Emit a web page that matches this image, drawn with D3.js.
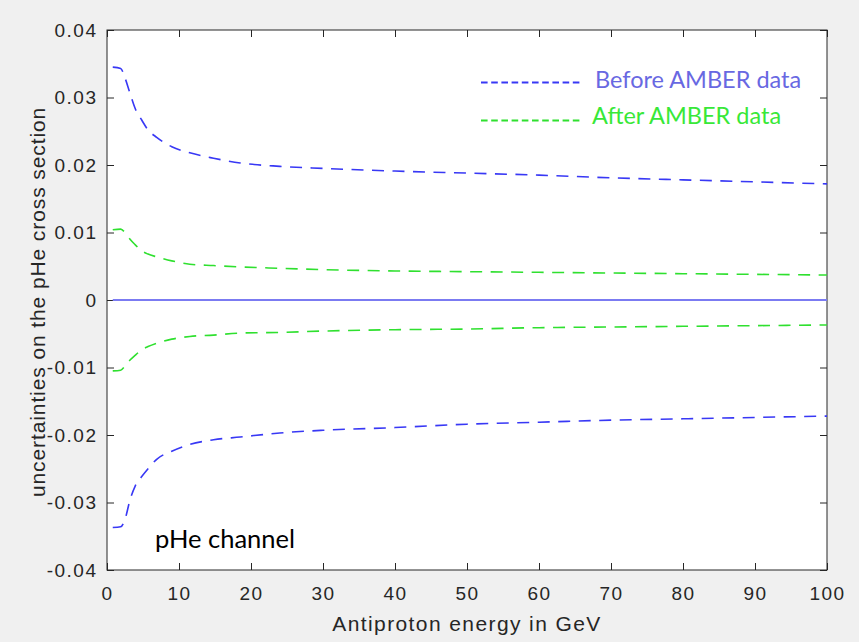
<!DOCTYPE html>
<html>
<head>
<meta charset="utf-8">
<script src="https://cdn.jsdelivr.net/npm/d3@7"></script>
<style>
  html, body { margin: 0; padding: 0; background: #f0f0f0; }
  svg { display: block; }
</style>
</head>
<body>
<svg id="chart" width="859" height="642"></svg>
<script>
// Antiproton energy (GeV) sampled along the curves
const energy = [0.8, 1.9, 2.5, 3.2, 3.9, 4.8, 5.7, 6.9, 9, 11.5, 14.8, 18.5, 24, 30, 40, 50, 60, 70, 80, 90, 100];

// Uncertainty envelopes on the pHe cross section
const beforeUpper = [0.0345, 0.0343, 0.0329, 0.0306, 0.0284, 0.0267, 0.0252, 0.0241, 0.0227, 0.0218, 0.0210, 0.0203, 0.0198, 0.0195, 0.0191, 0.0188, 0.0185, 0.0181, 0.0178, 0.0175, 0.0172];
const beforeLower = [-0.0337, -0.0336, -0.0325, -0.0296, -0.0276, -0.0262, -0.0250, -0.0236, -0.0224, -0.0214, -0.0207, -0.0203, -0.0197, -0.0193, -0.0189, -0.0184, -0.0181, -0.0178, -0.0176, -0.0174, -0.0172];
const afterUpper = [0.0104, 0.0105, 0.0100, 0.0090, 0.0082, 0.0073, 0.0068, 0.0064, 0.0058, 0.0053, 0.0051, 0.0049, 0.0047, 0.0045, 0.0043, 0.0042, 0.0041, 0.0040, 0.0039, 0.0038, 0.0037];
const afterLower = [-0.0105, -0.0104, -0.0098, -0.0089, -0.0082, -0.0074, -0.0069, -0.0064, -0.0058, -0.0054, -0.0052, -0.0049, -0.0048, -0.0046, -0.0044, -0.0043, -0.0041, -0.0040, -0.0039, -0.0038, -0.0037];
const central = [0, 0, 0, 0, 0, 0, 0, 0, 0, 0, 0, 0, 0, 0, 0, 0, 0, 0, 0, 0, 0];

const xTicks = [0, 10, 20, 30, 40, 50, 60, 70, 80, 90, 100];
const yTicks = [-0.04, -0.03, -0.02, -0.01, 0, 0.01, 0.02, 0.03, 0.04];

const legendLabels = ["Before AMBER data", "After AMBER data"];
const channelLabel = "pHe channel";

const BLUE = "#3838f5";
const GREEN = "#2fe02f";
const AXIS = "#262626";

const svg = d3.select("#chart");
const plotLeft = 107, plotRight = 827, plotTop = 30, plotBottom = 570;

const x = d3.scaleLinear().domain([0, 100]).range([plotLeft, plotRight]);
const y = d3.scaleLinear().domain([-0.04, 0.04]).range([plotBottom, plotTop]);

// axes box
svg.append("rect")
  .attr("x", plotLeft).attr("y", plotTop)
  .attr("width", plotRight - plotLeft).attr("height", plotBottom - plotTop)
  .attr("fill", "#ffffff");

const fmtY = d => d === 0 ? "0" : d3.format(".2f")(d).replace("−", "-");

function styleAxis(g) {
  g.select(".domain").remove();
  g.selectAll(".tick line").attr("stroke", AXIS);
  g.selectAll(".tick text")
    .attr("fill", AXIS)
    .style("font-family", "'Liberation Sans', Arial, sans-serif")
    .style("font-size", "19px")
    .style("letter-spacing", "1.5px");
}

svg.append("g")
  .attr("transform", `translate(0,${plotBottom})`)
  .call(d3.axisBottom(x).tickValues(xTicks).tickSize(-7).tickSizeOuter(0).tickPadding(16.5).tickFormat(d3.format("d")))
  .call(styleAxis);

svg.append("g")
  .attr("transform", `translate(0,${plotTop})`)
  .call(d3.axisTop(x).tickValues(xTicks).tickSize(-7).tickSizeOuter(0).tickFormat(""))
  .call(styleAxis);

svg.append("g")
  .attr("transform", `translate(${plotLeft},0)`)
  .call(d3.axisLeft(y).tickValues(yTicks).tickSize(-7).tickSizeOuter(0).tickPadding(9.5).tickFormat(fmtY))
  .call(styleAxis);

svg.append("g")
  .attr("transform", `translate(${plotRight},0)`)
  .call(d3.axisRight(y).tickValues(yTicks).tickSize(-7).tickSizeOuter(0).tickFormat(""))
  .call(styleAxis);

svg.append("rect")
  .attr("x", plotLeft).attr("y", plotTop)
  .attr("width", plotRight - plotLeft).attr("height", plotBottom - plotTop)
  .attr("fill", "none").attr("stroke", AXIS).attr("stroke-width", 1);

// curves
const line = d3.line()
  .x((d, i) => x(energy[i]))
  .y(d => y(d))
  .curve(d3.curveMonotoneX);

svg.append("path").datum(central)
  .attr("d", line).attr("fill", "none")
  .attr("stroke", "#7b7bf2").attr("stroke-width", 2.2);

const dashed = [
  { values: beforeUpper, color: BLUE },
  { values: beforeLower, color: BLUE },
  { values: afterUpper, color: GREEN },
  { values: afterLower, color: GREEN }
];

svg.selectAll("path.band").data(dashed).join("path")
  .attr("class", "band")
  .attr("d", d => line(d.values))
  .attr("fill", "none")
  .attr("stroke", d => d.color)
  .attr("stroke-width", 1.6)
  .attr("stroke-dasharray", "12,8.5");

// legend
const legend = [
  { label: legendLabels[0], line: BLUE, text: "#6868e2", ly: 82.5, tx: 595, ty: 88 },
  { label: legendLabels[1], line: GREEN, text: "#38e838", ly: 120.5, tx: 592, ty: 124 }
];
const lg = svg.append("g");
lg.selectAll("line").data(legend).join("line")
  .attr("x1", 481).attr("x2", 583)
  .attr("y1", d => d.ly).attr("y2", d => d.ly)
  .attr("stroke", d => d.line).attr("stroke-width", 2)
  .attr("stroke-dasharray", "6.6,3.6");
lg.selectAll("text").data(legend).join("text")
  .attr("x", d => d.tx).attr("y", d => d.ty)
  .attr("fill", d => d.text)
  .style("font-family", "Lato, 'Open Sans', sans-serif")
  .style("font-size", "23.5px")
  .text(d => d.label);

svg.append("text")
  .attr("x", 155).attr("y", 548)
  .attr("fill", "#000")
  .style("font-family", "Lato, 'Open Sans', sans-serif")
  .style("font-size", "25.5px")
  .text(channelLabel);

// axis titles
svg.append("text")
  .attr("x", 467).attr("y", 631)
  .attr("text-anchor", "middle")
  .attr("fill", AXIS)
  .style("font-family", "'Liberation Sans', Arial, sans-serif")
  .style("font-size", "21px")
  .style("letter-spacing", "1.4px")
  .text("Antiproton energy in GeV");

svg.append("text")
  .attr("transform", "translate(45,302) rotate(-90)")
  .attr("text-anchor", "middle")
  .attr("fill", AXIS)
  .style("font-family", "'Liberation Sans', Arial, sans-serif")
  .style("font-size", "21px")
  .style("letter-spacing", "0.9px")
  .text("uncertainties on the pHe cross section");
</script>
</body>
</html>
